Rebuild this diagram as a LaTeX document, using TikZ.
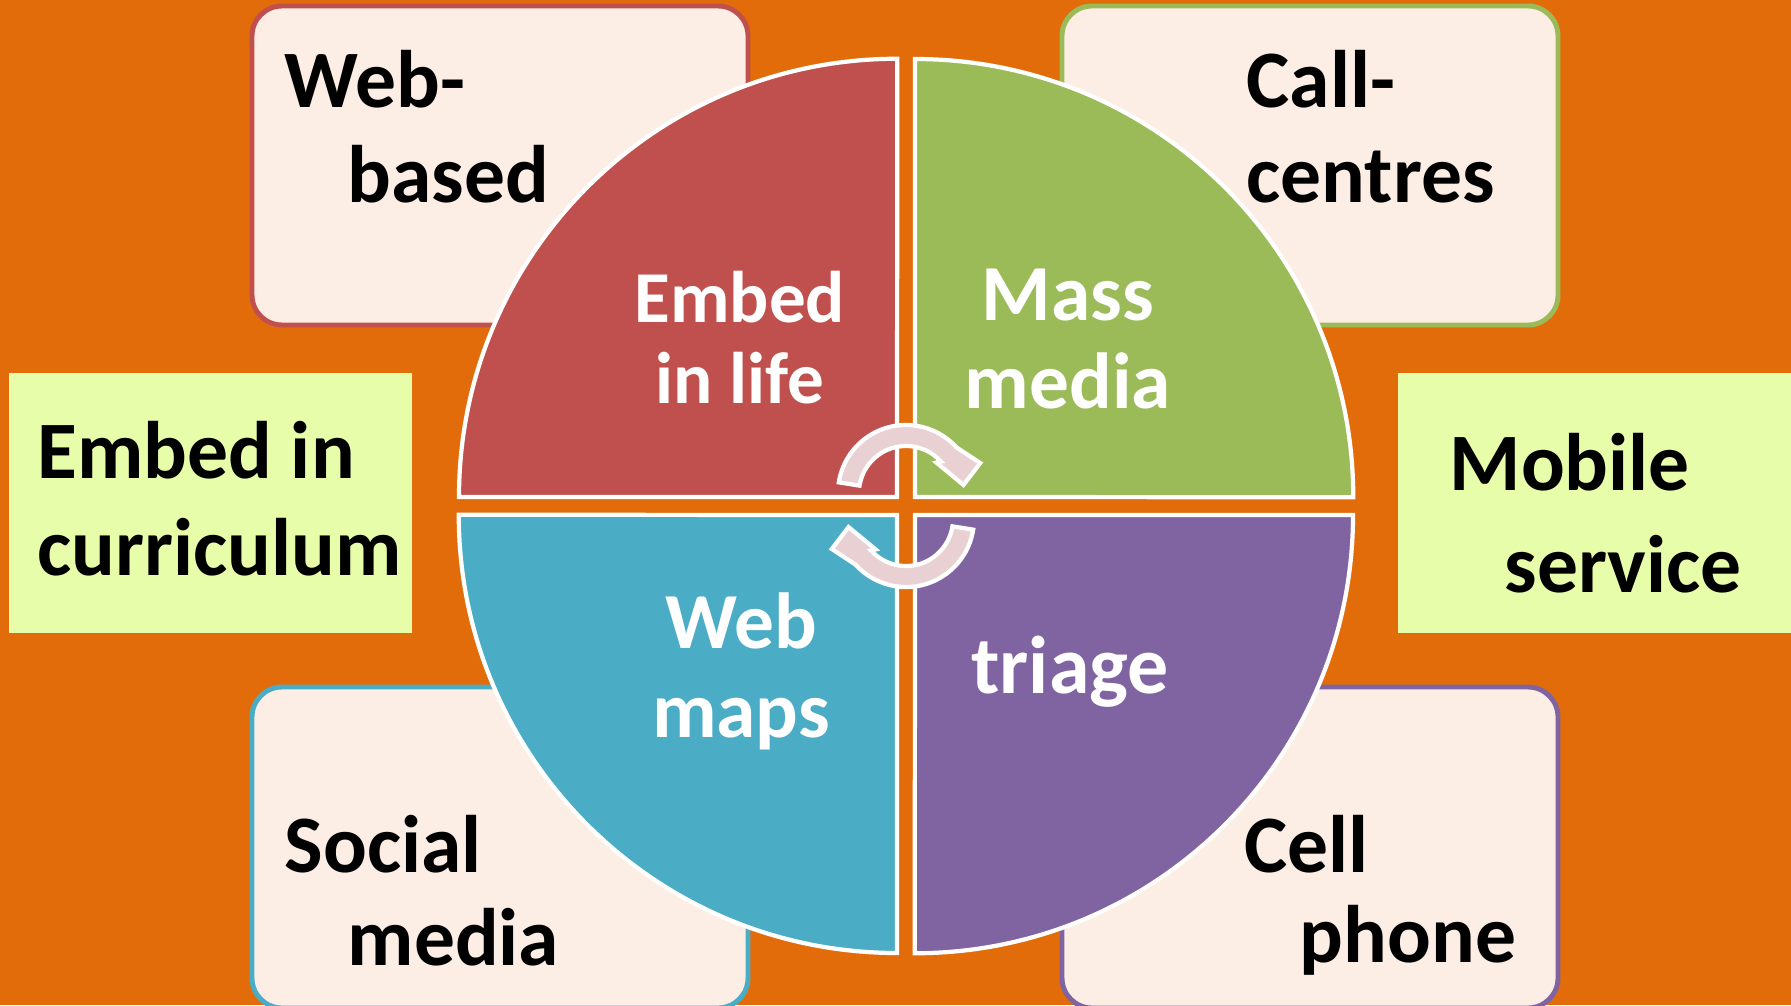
\documentclass[tikz,border=0pt]{standalone}
\usepackage{fontspec}
\setmainfont{Carlito}
\usepackage{tikz}
\definecolor{bgorange}{HTML}{E36C0A}
\definecolor{qred}{HTML}{C0504D}
\definecolor{qgreen}{HTML}{9BBB59}
\definecolor{qblue}{HTML}{4BACC6}
\definecolor{qpurple}{HTML}{8064A2}
\definecolor{cardfill}{HTML}{FCEEE5}
\definecolor{panelfill}{HTML}{E7FDA9}
\definecolor{arrowfill}{HTML}{E8D0D3}
\tikzset{
	% rounded cards round the circle, outlined in the colour of their quarter
	card/.style={draw=#1,line width=1.4pt,fill=cardfill,rounded corners=3mm},
	% pale green panels at the sides
	side panel/.style={fill=panelfill},
	% the four quarters of the circle
	quarter/.style={draw=white,line width=1.2pt,fill=#1},
	% words in the cards and panels, and in the quarters
	dark text/.style={font=\bfseries\fontsize{23.2}{27}\selectfont,text=black,inner sep=0pt,anchor=base west},
	light text/.style={font=\bfseries\fontsize{#1}{#1}\selectfont,text=white,inner sep=0pt,anchor=base},
	cycle arrow/.style={draw=white,line width=1.2pt,fill=arrowfill}
}

\begin{document}
\begin{tikzpicture}[x=0.01cm,y=0.01cm]
				% macro for the two turning arrows in the middle
				\newcommand{\cyclearrow}[2]{
					\begin{scope}[shift={(#1)},rotate=#2]
						\draw[cycle arrow] (171:0.47cm) -- (171:0.68cm) arc (171:42:0.68cm)
						-- (22:0.80cm) -- (8:0.58cm) -- (45:0.43cm) -- (42:0.47cm) arc (42:171:0.47cm) -- cycle;
					\end{scope}
				}
				\useasboundingbox (0,0) rectangle (1791,1005);
				\fill[bgorange] (0,0) rectangle (1791,1005);
				
				% cards in the corners
				\draw[card=qred] (252,680) rectangle (748,999);
				\draw[card=qgreen] (1062,680) rectangle (1558,999);
				\draw[card=qblue] (252,-3) rectangle (748,318);
				\draw[card=qpurple] (1062,-3) rectangle (1558,318);
				
				% panels at the sides
				\fill[side panel] (9,372) rectangle (412,632);
				\fill[side panel] (1398,372) rectangle (1800,632);
				
				% the circle in four quarters
				\draw[quarter=qred] (897,508) -- ++(-438,0) arc (180:90:4.38cm) -- cycle;
				\draw[quarter=qgreen] (915,508) -- ++(0,438) arc (90:0:4.38cm) -- cycle;
				\draw[quarter=qblue] (897,490) -- ++(0,-438) arc (270:180:4.38cm) -- cycle;
				\draw[quarter=qpurple] (915,490) -- ++(438,0) arc (0:-90:4.38cm) -- cycle;
				
				\coordinate (top-turn) at (906,512);
				\coordinate (low-turn) at (906,486);
				\cyclearrow{top-turn}{0}
				\cyclearrow{low-turn}{180}
				
				% words in the cards and panels
				\node[dark text] (tl-1) at (284,897) {Web-};
				\node[dark text] (tl-2) at (347,803) {based};
				\node[dark text] (tr-1) at (1246,897) {Call-};
				\node[dark text] (tr-2) at (1246,803) {centres};
				\node[dark text] (bl-1) at (284,133) {Social};
				\node[dark text] (bl-2) at (347,40) {media};
				\node[dark text] (br-1) at (1244,133) {Cell};
				\node[dark text] (br-2) at (1299,43) {phone};
				\node[dark text] (l-1) at (37,527) {Embed in};
				\node[dark text] (l-2) at (37,430) {curriculum};
				\node[dark text] (r-1) at (1449,515) {Mobile};
				\node[dark text] (r-2) at (1504,413) {service};
				
				% words in the quarters
				\node[light text=20.8] (q1-1) at (740,683) {Embed};
				\node[light text=20.8] (q1-2) at (740,602) {in life};
				\node[light text=22.6] (q2-1) at (1068,685) {Mass};
				\node[light text=22.6] (q2-2) at (1068,597) {media};
				\node[light text=22.6] (q3-1) at (741,357) {Web};
				\node[light text=22.6] (q3-2) at (741,268) {maps};
				\node[light text=23.3] (q4-1) at (1070,312) {triage};
\end{tikzpicture}
\end{document}
